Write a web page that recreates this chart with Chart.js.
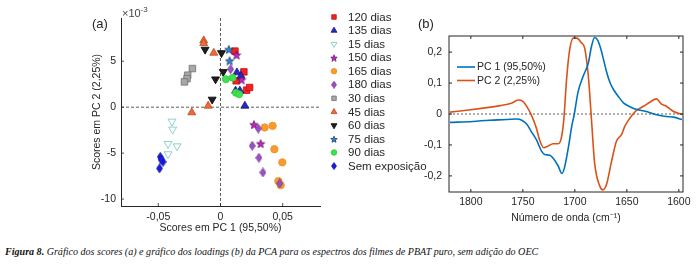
<!DOCTYPE html>
<html>
<head>
<meta charset="utf-8">
<script src="https://cdn.jsdelivr.net/npm/chart.js@4.4.0/dist/chart.umd.min.js"></script>
<style>
  body { margin: 0; background: #fff; width: 698px; height: 266px; position: relative; overflow: hidden; }
  #scores { position: absolute; left: 0; top: 0; }
  #loadings { position: absolute; left: 410px; top: 0; }
  #caption { position: absolute; left: 5px; top: 245px; font-family: "Liberation Serif", "Times New Roman", serif;
             font-style: italic; font-size: 11px; white-space: nowrap; color: #111;
             transform: scaleX(0.915); transform-origin: left top; }
</style>
</head>
<body>
<canvas id="scores" width="440" height="240"></canvas>
<canvas id="loadings" width="288" height="240"></canvas>
<div id="caption"><b>Figura 8.</b> Gráfico dos scores (a) e gráfico dos loadings (b) da PCA para os espectros dos filmes de PBAT puro, sem adição do OEC</div>
<script>
// scores: [PC1, PC2 (x10^-3)]
const dias120 = [[0.0116, 6.1], [0.0188, 3.84], [0.0126, 2.87], [0.021, 1.85], [0.0234, 2.14]];
const dias135 = [[0.0132, 3.77], [0.0165, 3.4], [0.0121, 1.78], [0.0156, 1.78], [0.0196, 0.14]];
const dias15 = [[-0.039, -1.55], [-0.0385, -2.42], [-0.0422, -3.98], [-0.0349, -4.24], [-0.0422, -5.1]];
const dias150 = [[0.0129, 5.7], [0.0169, 3.0], [0.0269, -1.88], [0.0323, -3.95]];
const dias165 = [[0.0355, -2.21], [0.0419, -2.03], [0.0433, -4.57], [0.0497, -6.0], [0.0465, -8.04], [0.0484, -8.48]];
const dias180 = [[0.0081, 4.13], [0.0304, -2.32], [0.0255, -4.2], [0.0309, -5.5], [0.0341, -7.1], [0.0476, -8.3]];
const dias30 = [[-0.0226, 4.2], [-0.0264, 3.48], [-0.0269, 3.1], [-0.029, 2.75]];
const dias45 = [[-0.0135, 7.25], [-0.0135, 6.95], [-0.0054, 5.9], [-0.0099, 0.14], [-0.0231, -0.58]];
const dias60 = [[-0.0124, 6.27], [0.0008, 5.9], [0.0022, 3.84], [-0.004, 3.04], [-0.0067, 0.84]];
const dias75 = [[0.0067, 6.3], [0.0073, 5.07]];
const dias90 = [[0.0043, 3.04], [0.0097, 3.2], [0.0124, 1.56], [0.015, 1.41]];
const semExposicao = [[-0.0484, -5.4], [-0.0462, -5.95], [-0.0478, -5.7], [-0.049, -6.66]];

const scoreXTicks = [-0.05, 0, 0.05];
const scoreYTicks = [-10, -5, 0, 5];

// loadings
const wnPC1 = [1820, 1798, 1782, 1766, 1756, 1751, 1746, 1742, 1737, 1732, 1729, 1724, 1721, 1716, 1712.5, 1710, 1706, 1703,
  1700.5, 1697, 1692, 1687, 1684, 1681, 1678, 1675, 1672, 1669, 1666, 1663, 1658, 1653, 1648, 1643, 1637, 1631, 1625, 1618, 1612, 1605, 1597];
const loadPC1 = [-0.027, -0.024, -0.02, -0.018, -0.016, -0.02, -0.034, -0.056, -0.083, -0.12, -0.131, -0.133, -0.142, -0.168, -0.192, -0.174, -0.104, -0.04,
  0, 0.07, 0.122, 0.165, 0.218, 0.247, 0.238, 0.21, 0.17, 0.13, 0.1, 0.08, 0.056, 0.035, 0.025, 0.017, 0.012, 0.008, 0.001, -0.005, -0.008, -0.01, -0.018];
const wnPC2 = [1820, 1804, 1788, 1772, 1761, 1754.5, 1750, 1746, 1742, 1737, 1734, 1730, 1726, 1721, 1716, 1713, 1710.6, 1708, 1705, 1701.5, 1698,
  1694, 1690.5, 1687, 1684, 1681, 1676, 1673, 1669.5, 1665, 1660, 1655, 1652, 1647, 1641, 1634, 1628, 1621.5, 1617, 1612, 1605.5, 1597];
const loadPC2 = [0.006, 0.012, 0.019, 0.027, 0.035, 0.045, 0.041, 0.023, -0.002, -0.045, -0.083, -0.109, -0.104, -0.096, -0.096, -0.077, -0.018, 0.11, 0.207, 0.245, 0.245,
  0.231, 0.212, 0.121, -0.018, -0.158, -0.233, -0.245, -0.227, -0.158, -0.088, -0.066, -0.04, -0.013, 0.011, 0.025, 0.038, 0.049, 0.033, 0.025, 0.009, -0.002];

const loadXTicks = [1600, 1650, 1700, 1750, 1800];
const loadYTicks = [-0.2, -0.1, 0, 0.1, 0.2];

const axisColor = '#262626';
const fmt = v => String(v).replace('.', ',');

function starImage(size, fill, stroke) {
  const c = document.createElement('canvas');
  c.width = size; c.height = size;
  const g = c.getContext('2d');
  const R = size / 2 - 0.6, r = R * 0.42, cx = size / 2, cy = size / 2 + 0.6;
  g.beginPath();
  for (let i = 0; i < 10; i++) {
    const a = -Math.PI / 2 + i * Math.PI / 5;
    const rr = i % 2 ? r : R;
    g.lineTo(cx + rr * Math.cos(a), cy + rr * Math.sin(a));
  }
  g.closePath();
  g.fillStyle = fill; g.fill();
  g.strokeStyle = stroke; g.lineWidth = 0.8; g.stroke();
  return c;
}

function diamondImage(w, h, fill, stroke) {
  const c = document.createElement('canvas');
  c.width = w; c.height = h;
  const g = c.getContext('2d');
  g.beginPath();
  g.moveTo(w / 2, 0.5); g.lineTo(w - 0.5, h / 2); g.lineTo(w / 2, h - 0.5); g.lineTo(0.5, h / 2);
  g.closePath();
  g.fillStyle = fill; g.fill();
  g.strokeStyle = stroke; g.lineWidth = 0.7; g.stroke();
  return c;
}

// series look: label, data, style, legend style
const series = [
  { label: '120 dias', data: dias120, fill: '#f52020', edge: '#c01010', style: 'rect', r: 4.6, lr: 3.2 },
  { label: '135 dias', data: dias135, fill: '#2828c8', edge: '#14147a', style: 'triangle', r: 4.6, lr: 3.4 },
  { label: '15 dias', data: dias15, fill: '#ffffff', edge: '#72c6bc', style: 'triangle', rot: 180, r: 4.6, lr: 3.4 },
  { label: '150 dias', data: dias150, img: starImage(10, '#d21ecf', '#5a145a'), limg: starImage(8, '#d21ecf', '#5a145a') },
  { label: '165 dias', data: dias165, fill: '#f79b2e', edge: '#f0901e', style: 'circle', r: 3.7, lr: 2.8 },
  { label: '180 dias', data: dias180, img: diamondImage(7, 10, '#9c50c4', '#6a2c8c'), limg: diamondImage(6, 8, '#9c50c4', '#6a2c8c') },
  { label: '30 dias', data: dias30, fill: '#a8a8a8', edge: '#707070', style: 'rect', r: 4.6, lr: 3.2 },
  { label: '45 dias', data: dias45, fill: '#ee6a38', edge: '#b84a22', style: 'triangle', r: 4.6, lr: 3.4 },
  { label: '60 dias', data: dias60, fill: '#1e1e1e', edge: '#000000', style: 'triangle', rot: 180, r: 4.6, lr: 3.4 },
  { label: '75 dias', data: dias75, img: starImage(10, '#2a8ad8', '#1a3a6a'), limg: starImage(8, '#2a8ad8', '#1a3a6a') },
  { label: '90 dias', data: dias90, fill: '#3ee04c', edge: '#30c83c', style: 'circle', r: 3.5, lr: 2.8 },
  { label: 'Sem exposição', data: semExposicao, img: diamondImage(7, 10, '#1a1aee', '#10108a'), limg: diamondImage(6, 8, '#1a1aee', '#10108a') }
];

function drawTicks(ctx, scale, a, sides, len) {
  scale.ticks.forEach(t => {
    const p = scale.getPixelForValue(t.value);
    ctx.beginPath();
    if (scale.isHorizontal()) {
      if (sides.bottom) { ctx.moveTo(p, a.bottom); ctx.lineTo(p, a.bottom - len); }
      if (sides.top) { ctx.moveTo(p, a.top); ctx.lineTo(p, a.top + len); }
    } else {
      if (sides.left) { ctx.moveTo(a.left, p); ctx.lineTo(a.left + len, p); }
      if (sides.right) { ctx.moveTo(a.right, p); ctx.lineTo(a.right - len, p); }
    }
    ctx.stroke();
  });
}

const scoresDecor = {
  id: 'scoresDecor',
  beforeDatasetsDraw(chart) {
    const { ctx, chartArea: a, scales: { x, y } } = chart;
    ctx.save();
    ctx.strokeStyle = '#333';
    ctx.lineWidth = 0.8;
    ctx.setLineDash([3, 2]);
    const x0 = x.getPixelForValue(0), y0 = y.getPixelForValue(0);
    ctx.beginPath();
    ctx.moveTo(a.left, y0); ctx.lineTo(a.right, y0);
    ctx.moveTo(x0, a.top); ctx.lineTo(x0, a.bottom);
    ctx.stroke();
    ctx.setLineDash([]);
    ctx.strokeStyle = axisColor;
    drawTicks(ctx, x, a, { bottom: true }, 3);
    drawTicks(ctx, y, a, { left: true }, 3);
    ctx.restore();
  },
  afterDraw(chart) {
    const ctx = chart.ctx;
    ctx.save();
    ctx.fillStyle = axisColor;
    ctx.textBaseline = 'middle';
    ctx.font = '13px "Liberation Sans", Arial, sans-serif';
    ctx.fillText('(a)', 92, 24);
    ctx.fillStyle = '#444';
    ctx.font = '11px "Liberation Sans", Arial, sans-serif';
    ctx.fillText('×10', 122, 14);
    ctx.font = '8px "Liberation Sans", Arial, sans-serif';
    ctx.fillText('-3', 140.5, 10);
    // legend
    ctx.font = '11.5px "Liberation Sans", Arial, sans-serif';
    series.forEach((s, i) => {
      const ly = 17 + i * 13.55;
      ctx.fillStyle = s.fill || '#000';
      ctx.strokeStyle = s.edge || '#000';
      ctx.lineWidth = 0.8;
      Chart.helpers.drawPoint(ctx, {
        pointStyle: s.limg || s.style, radius: s.lr || 3, rotation: s.rot || 0, borderWidth: 0.8
      }, 334, ly);
      ctx.fillStyle = axisColor;
      ctx.fillText(s.label, 348, ly + 0.5);
    });
    ctx.restore();
  }
};

new Chart(document.getElementById('scores'), {
  type: 'scatter',
  data: {
    datasets: series.map(s => ({
      label: s.label,
      data: s.data.map(p => ({ x: p[0], y: p[1] })),
      pointStyle: s.img || s.style,
      pointRadius: s.r || 5,
      pointRotation: s.rot || 0,
      backgroundColor: s.fill || '#000',
      borderColor: s.edge || '#000',
      borderWidth: 0.8
    })).reverse()
  },
  options: {
    responsive: false,
    animation: false,
    events: [],
    layout: { padding: { left: 0, top: 18, right: 120, bottom: 0 } },
    plugins: { legend: { display: false }, tooltip: { enabled: false } },
    scales: {
      x: {
        type: 'linear', min: -0.08, max: 0.08,
        afterBuildTicks: s => { s.ticks = scoreXTicks.map(v => ({ value: v })); },
        afterFit: s => { s.height = 34; },
        grid: { display: false, drawTicks: false },
        border: { display: true, color: axisColor, width: 1 },
        ticks: { padding: 5, maxRotation: 0, color: axisColor, font: { family: '"Liberation Sans", Arial', size: 10.5 }, callback: v => fmt(v) },
        title: { display: true, text: 'Scores em PC 1 (95,50%)', color: axisColor, padding: { top: 0, bottom: 5.5 },
                 font: { family: '"Liberation Sans", Arial', size: 10.5 } }
      },
      y: {
        type: 'linear', min: -10.75, max: 9.7,
        afterBuildTicks: s => { s.ticks = scoreYTicks.map(v => ({ value: v })); },
        afterFit: s => { s.width = 121; },
        grid: { display: false, drawTicks: false },
        border: { display: true, color: axisColor, width: 1 },
        ticks: { padding: 5, color: axisColor, font: { family: '"Liberation Sans", Arial', size: 10.5 }, callback: v => fmt(v) },
        title: { display: true, text: 'Scores em PC 2 (2,25%)', color: axisColor, padding: { top: 90.5, bottom: 0 },
                 font: { family: '"Liberation Sans", Arial', size: 10.5 } }
      }
    }
  },
  plugins: [scoresDecor]
});

const loadingsDecor = {
  id: 'loadingsDecor',
  beforeDatasetsDraw(chart) {
    const { ctx, chartArea: a, scales: { x, y } } = chart;
    ctx.save();
    ctx.strokeStyle = '#333';
    ctx.lineWidth = 0.8;
    ctx.setLineDash([2, 2]);
    const y0 = y.getPixelForValue(0);
    ctx.beginPath();
    ctx.moveTo(a.left, y0); ctx.lineTo(a.right, y0);
    ctx.stroke();
    ctx.restore();
  },
  afterDraw(chart) {
    const { ctx, chartArea: a, scales: { x, y } } = chart;
    ctx.save();
    ctx.strokeStyle = axisColor;
    ctx.lineWidth = 1;
    ctx.strokeRect(a.left, a.top, a.right - a.left, a.bottom - a.top);
    drawTicks(ctx, x, a, { bottom: true, top: true }, 3);
    drawTicks(ctx, y, a, { left: true, right: true }, 3);
    ctx.fillStyle = axisColor;
    ctx.textBaseline = 'middle';
    ctx.font = '13px "Liberation Sans", Arial, sans-serif';
    ctx.fillText('(b)', 8, 24);
    // legend
    ctx.font = '10.5px "Liberation Sans", Arial, sans-serif';
    chart.data.datasets.forEach((d, i) => {
      const ly = 67 + i * 13.5;
      ctx.strokeStyle = d.borderColor;
      ctx.lineWidth = 1.6;
      ctx.beginPath();
      ctx.moveTo(47, ly); ctx.lineTo(65, ly);
      ctx.stroke();
      ctx.fillStyle = axisColor;
      ctx.fillText(d.label, 67, ly + 0.5);
    });
    ctx.restore();
  }
};

new Chart(document.getElementById('loadings'), {
  type: 'scatter',
  data: {
    datasets: [
      { label: 'PC 1 (95,50%)', data: wnPC1.map((w, i) => ({ x: w, y: loadPC1[i] })), borderColor: '#0072BD' },
      { label: 'PC 2 (2,25%)', data: wnPC2.map((w, i) => ({ x: w, y: loadPC2[i] })), borderColor: '#D95319' }
    ].map(d => Object.assign(d, { showLine: true, borderWidth: 1.6, pointRadius: 0, cubicInterpolationMode: 'monotone' }))
  },
  options: {
    responsive: false,
    animation: false,
    events: [],
    layout: { padding: { left: 0, top: 36, right: 15, bottom: 0 } },
    plugins: { legend: { display: false }, tooltip: { enabled: false } },
    scales: {
      x: {
        type: 'linear', reverse: true, min: 1596, max: 1821,
        afterBuildTicks: s => { s.ticks = loadXTicks.map(v => ({ value: v })); },
        afterFit: s => { s.height = 48; },
        grid: { display: false, drawTicks: false },
        border: { display: false },
        ticks: { padding: 4, maxRotation: 0, color: axisColor, font: { family: '"Liberation Sans", Arial', size: 10.5 }, callback: v => String(v) },
        title: { display: true, text: 'Número de onda (cm⁻¹)', color: axisColor, padding: { top: 0, bottom: 15.5 },
                 font: { family: '"Liberation Sans", Arial', size: 10.5 } }
      },
      y: {
        type: 'linear', min: -0.252, max: 0.252,
        afterBuildTicks: s => { s.ticks = loadYTicks.map(v => ({ value: v })); },
        afterFit: s => { s.width = 39; },
        grid: { display: false, drawTicks: false },
        border: { display: false },
        ticks: { padding: 7, color: axisColor, font: { family: '"Liberation Sans", Arial', size: 10.5 }, callback: v => fmt(v) }
      }
    }
  },
  plugins: [loadingsDecor]
});
</script>
</body>
</html>
